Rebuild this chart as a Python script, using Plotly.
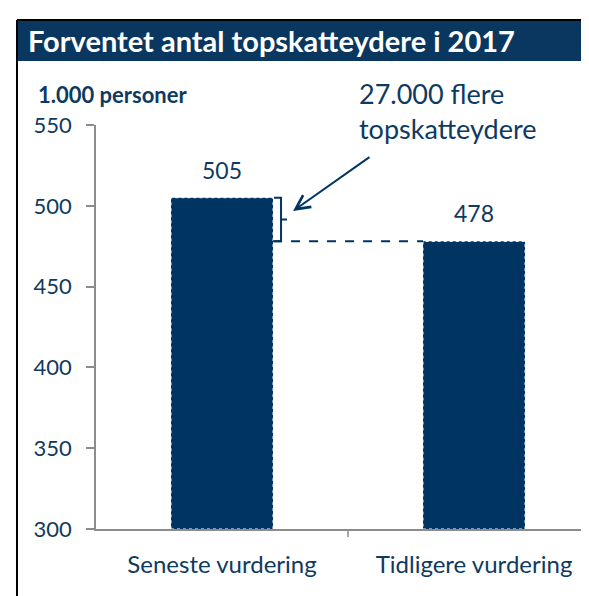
import plotly.graph_objects as go

categories = ["Seneste vurdering", "Tidligere vurdering"]
values = [505, 478]
value_labels = ["505", "478"]
y_ticks = [300, 350, 400, 450, 500, 550]
title = "Forventet antal topskatteydere i 2017"
unit = "1.000 personer"
note = "27.000 flere<br>topskatteydere"

navy = "#003462"
text_navy = "#0f3a5f"
grey = "#8c8c8c"
font = "Lato"
bar_w = 0.405

fig = go.Figure()
fig.add_trace(go.Bar(x=[0, 1], y=values, width=bar_w, marker=dict(color=navy, line=dict(width=0)),
                     hoverinfo="skip"))

# dotted white outlines on the bars
for i, v in enumerate(values):
    fig.add_shape(type="rect", xref="x", yref="y", x0=i - bar_w / 2, x1=i + bar_w / 2, y0=300, y1=v,
                  line=dict(color="white", width=1, dash="dot"), layer="above")

# value labels
for i, v in enumerate(values):
    fig.add_annotation(x=i, y=v, text=value_labels[i], showarrow=False, yanchor="bottom", yshift=12,
                       font=dict(family=font, size=23, color=text_navy))

# dashed level line from first bar to second bar
fig.add_shape(type="line", xref="x", yref="y", x0=bar_w / 2, x1=1 - bar_w / 2, y0=values[1], y1=values[1],
              line=dict(color=navy, width=2, dash="dash"))

# bracket showing the difference
mid = (values[0] + values[1]) / 2
fig.add_shape(type="path", xref="x", yref="y", xsizemode="pixel", xanchor=bar_w / 2,
              path=f"M 1,{values[0]} H 8 V {values[1]} H 1 M 8,{mid} H 14",
              line=dict(color=navy, width=2))

# arrow from note to bracket
fig.add_annotation(x=0.282, y=496.8, ax=0.591, ay=530.8, xref="x", yref="y", axref="x", ayref="y",
                   text="", showarrow=True, arrowhead=5, arrowsize=1.4, arrowwidth=2, arrowcolor=navy)

fig.add_annotation(x=0.52, y=1.034, xref="paper", yref="paper", text=note, showarrow=False,
                   xanchor="left", yanchor="middle", align="left",
                   font=dict(family=font, size=27, color=text_navy))

# frame and title bar
fig.add_shape(type="line", xref="paper", yref="paper", x0=-0.1577, x1=-0.1577, y0=-0.2, y1=1.2599,
              line=dict(color="black", width=2))
fig.add_shape(type="line", xref="paper", yref="paper", x0=-0.1577, x1=1.01, y0=1.2599, y1=1.2599,
              line=dict(color="black", width=2))
fig.add_shape(type="rect", xref="paper", yref="paper", x0=-0.1557, x1=1.01, y0=1.1584, y1=1.2574,
              fillcolor="#0a3760", line=dict(width=0))
fig.add_annotation(x=-0.14, y=1.208, xref="paper", yref="paper", text=f"<b>{title}</b>", showarrow=False,
                   xanchor="left", yanchor="middle", font=dict(family=font, size=29, color="white"))
fig.add_annotation(x=-0.12, y=1.0767, xref="paper", yref="paper", text=f"<b>{unit}</b>", showarrow=False,
                   xanchor="left", yanchor="middle", font=dict(family=font, size=22, color=text_navy))

fig.update_layout(
    width=589, height=596,
    margin=dict(l=88, r=0, t=117, b=75),
    plot_bgcolor="white", paper_bgcolor="white",
    showlegend=False,
    xaxis=dict(type="linear", range=[-0.5, 1.488], tickvals=[0, 1], ticktext=categories,
               showline=True, linecolor=grey, linewidth=1.5, showgrid=False, zeroline=False,
               ticks="", ticklabelstandoff=13, tickfont=dict(family=font, size=24, color=text_navy)),
    yaxis=dict(range=[300, 550], tickvals=y_ticks, showline=True, linecolor=grey, linewidth=1.5,
               showgrid=False, zeroline=False, ticks="outside", ticklen=8, tickcolor=grey, tickwidth=1.5,
               ticklabelstandoff=10, tickfont=dict(family=font, size=22, color=text_navy)),
)

# category boundary tick on the x axis
fig.add_shape(type="line", xref="x", yref="paper", x0=0.5, x1=0.5, y0=0, y1=-0.02,
              line=dict(color=grey, width=1.5))

fig.write_html("out.html")
